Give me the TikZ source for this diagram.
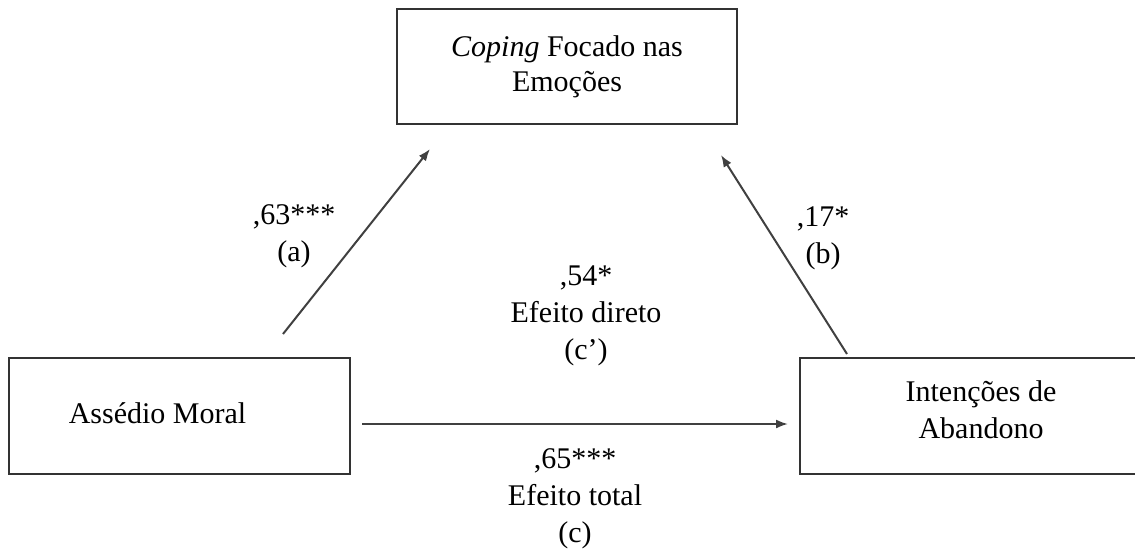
\documentclass[tikz,border=0pt]{standalone}
\usepackage{fontspec}
\setmainfont{Liberation Serif}
\usetikzlibrary{arrows.meta}

\begin{document}
\begin{tikzpicture}[x=1pt,y=-1pt,font=\fontsize{30}{37}\selectfont,
  box/.style={draw=black!80,line width=2.2pt,inner sep=0pt,align=center},
  path/.style={draw=black!75,line width=2pt,-{Latex[length=12pt,width=9pt]}},
  lab/.style={align=center}]
\useasboundingbox (0,0) rectangle (1135,554);
\clip (0,0) rectangle (1135,554);
% boxes
\node[box,minimum width=340pt,minimum height=115pt,font=\fontsize{30}{35}\selectfont] (cfe) at (567,66.5) {\textit{Coping} Focado nas\\Emoções};
\node[box,minimum width=341pt,minimum height=116pt,label={[lab,xshift=-22pt,yshift=3pt]center:Assédio Moral}] (am) at (179.5,416) {};
\node[box,minimum width=362pt,minimum height=116pt,label={[lab,yshift=6pt]center:Intenções de\\Abandono}] (ia) at (981,416) {};
% arrows
\coordinate (a0) at (283,334); \coordinate (a1) at (430,149);
\coordinate (b0) at (847,354); \coordinate (b1) at (721,155);
\coordinate (c0) at (362,424); \coordinate (c1) at (788,424);
\draw[path] (a0) -- (a1);
\draw[path] (b0) -- (b1);
\draw[path] (c0) -- (c1);
% coefficients
\node[lab] (pa) at (294,236.5) {,63***\\(a)};
\node[lab] (pb) at (823,238.5) {,17*\\(b)};
\node[lab] (pcp) at (586,316) {,54*\\Efeito direto\\(c’)};
\node[lab] (pc) at (575,499) {,65***\\Efeito total\\(c)};
\end{tikzpicture}
\end{document}
